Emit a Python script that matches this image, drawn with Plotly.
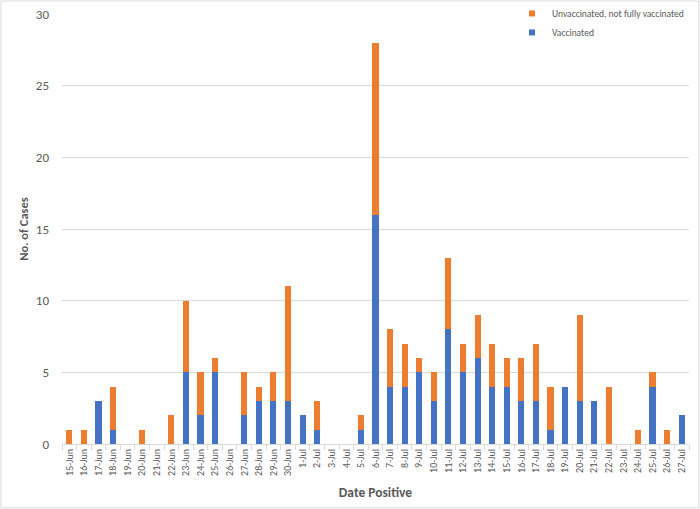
import plotly.graph_objects as go

dates = ["15-Jun","16-Jun","17-Jun","18-Jun","19-Jun","20-Jun","21-Jun","22-Jun","23-Jun","24-Jun",
         "25-Jun","26-Jun","27-Jun","28-Jun","29-Jun","30-Jun","1-Jul","2-Jul","3-Jul","4-Jul",
         "5-Jul","6-Jul","7-Jul","8-Jul","9-Jul","10-Jul","11-Jul","12-Jul","13-Jul","14-Jul",
         "15-Jul","16-Jul","17-Jul","18-Jul","19-Jul","20-Jul","21-Jul","22-Jul","23-Jul","24-Jul",
         "25-Jul","26-Jul","27-Jul"]
vaccinated = [0,0,3,1,0,0,0,0,5,2,
              5,0,2,3,3,3,2,1,0,0,
              1,16,4,4,5,3,8,5,6,4,
              4,3,3,1,4,3,3,0,0,0,
              4,0,2]
unvaccinated = [1,1,0,3,0,1,0,2,5,3,
                1,0,3,1,2,8,0,2,0,0,
                1,12,4,3,1,2,5,2,3,3,
                2,3,4,3,0,6,0,4,0,1,
                1,1,0]

grey = "#595959"
blue = "#4472C4"
orange = "#ED7D31"
fig = go.Figure()
fig.add_trace(go.Bar(x=dates, y=vaccinated, name="Vaccinated", marker_color=blue,
                     marker_line_width=0, showlegend=False))
fig.add_trace(go.Bar(x=dates, y=unvaccinated, name="Unvaccinated, not fully vaccinated",
                     marker_color=orange, marker_line_width=0, showlegend=False))
# legend-only entries with small square swatches
fig.add_trace(go.Scatter(x=[None], y=[None], mode="markers", name="Unvaccinated, not fully vaccinated",
                         marker=dict(symbol="square", size=6, color=orange)))
fig.add_trace(go.Scatter(x=[None], y=[None], mode="markers", name="Vaccinated",
                         marker=dict(symbol="square", size=6, color=blue)))

fig.update_layout(
    width=700, height=509,
    barmode="stack", bargap=0.58,
    paper_bgcolor="white", plot_bgcolor="white",
    margin=dict(l=62, r=11, t=14, b=65, autoexpand=False),
    font=dict(family="Calibri, Carlito, 'Open Sans', sans-serif", color=grey),
    legend=dict(x=1.0, y=1.035, xanchor="right", yanchor="top", traceorder="normal",
                font=dict(size=9.5, color=grey), bgcolor="rgba(0,0,0,0)",
                itemwidth=30, tracegroupgap=0),
    xaxis=dict(type="category", tickangle=-90, tickfont=dict(size=10, color=grey),
               showline=True, linecolor="#D9D9D9", linewidth=1,
               ticks="outside", tickson="boundaries", ticklen=5, tickcolor="#D9D9D9",
               title=dict(text="<b>Date Positive</b>", font=dict(size=13.5, color=grey), standoff=12)),
    yaxis=dict(range=[0, 30], dtick=5, showgrid=True, gridcolor="#D9D9D9", zeroline=False,
               tickfont=dict(size=13, color=grey), ticks="", ticklabelstandoff=12,
               title=dict(text="<b>No. of Cases</b>", font=dict(size=12.5, color=grey), standoff=4)),
    shapes=[dict(type="rect", xref="paper", yref="paper",
                 x0=-0.0973, x1=1.0159, y0=-0.1488, y1=1.0302,
                 line=dict(color="#D9D9D9", width=1))],
    showlegend=True,
)
fig.write_html("out.html", config={"displayModeBar": False},
               post_script="document.body.style.margin='0';document.body.style.padding='0';")
